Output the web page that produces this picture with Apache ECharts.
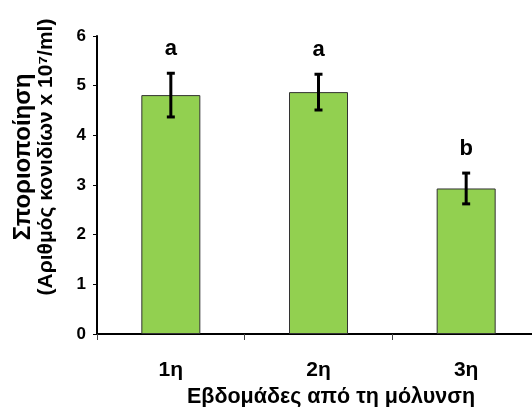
<!DOCTYPE html>
<html>
<head>
<meta charset="utf-8">
<script src="https://cdn.jsdelivr.net/npm/echarts@6/dist/echarts.min.js"></script>
<style>html,body{margin:0;padding:0;background:#fff}#c{width:532px;height:407px}</style>
</head>
<body>
<div id="c"></div>
<script>
const categories = ['1η', '2η', '3η'];
const values = [4.81, 4.87, 2.93];
const errors = [0.44, 0.36, 0.31];
const sigLetters = ['a', 'a', 'b'];
const yTicks = [0, 1, 2, 3, 4, 5, 6];
const xTitle = 'Εβδομάδες από τη μόλυνση';
const yTitleLines = ['Σποριοποίηση', '(Αριθμός κονιδίων x 10⁷/ml)'];
const yTitleSizes = [24, 21];

const chart = echarts.init(document.getElementById('c'));
const font = '"Liberation Sans", Arial, sans-serif';

chart.setOption({
  animation: false,
  grid: { left: 97, top: 36, bottom: 73, width: 443, outerBoundsMode: 'none', containLabel: false },
  graphic: yTitleLines.map((t, k) => ({
    type: 'text',
    x: 23 + k * 23,
    y: 157,
    rotation: Math.PI / 2,
    style: { text: t, fontFamily: font, fontWeight: 'bold', fontSize: yTitleSizes[k], fill: '#000', align: 'center', verticalAlign: 'middle' }
  })),
  xAxis: {
    type: 'category',
    data: categories,
    name: xTitle,
    nameLocation: 'middle',
    nameGap: 48,
    nameTextStyle: { fontFamily: font, fontWeight: 'bold', fontSize: 21.5, color: '#000', padding: [0, 0, 0, 25] },
    axisLine: { lineStyle: { color: '#000', width: 2 } },
    axisTick: { show: true, length: 6, lineStyle: { color: '#444', width: 1 } },
    axisLabel: { margin: 26, fontFamily: font, fontWeight: 'bold', fontSize: 21, color: '#000' }
  },
  yAxis: {
    type: 'value',
    min: yTicks[0],
    max: yTicks[yTicks.length - 1],
    interval: 1,
    splitLine: { show: false },
    axisLine: { show: true, lineStyle: { color: '#000', width: 2 } },
    axisTick: { show: true, length: 4, lineStyle: { color: '#000', width: 1 } },
    axisLabel: { margin: 11, fontFamily: font, fontWeight: 'bold', fontSize: 17, color: '#000' }
  },
  series: [
    {
      type: 'bar',
      data: values,
      barWidth: 59,
      itemStyle: { color: '#92D050', borderColor: '#333', borderWidth: 1 }
    },
    {
      type: 'custom',
      data: values.map((v, i) => [i, v, errors[i]]),
      z: 10,
      renderItem: function (params, api) {
        const i = api.value(0), v = api.value(1), e = api.value(2);
        const top = api.coord([i, v + e]);
        const bot = api.coord([i, v - e]);
        const cw = 4;
        return {
          type: 'group',
          children: [
            { type: 'line', shape: { x1: top[0], y1: top[1], x2: bot[0], y2: bot[1] }, style: { stroke: '#000', lineWidth: 3 } },
            { type: 'line', shape: { x1: top[0] - cw, y1: top[1], x2: top[0] + cw, y2: top[1] }, style: { stroke: '#000', lineWidth: 3 } },
            { type: 'line', shape: { x1: bot[0] - cw, y1: bot[1], x2: bot[0] + cw, y2: bot[1] }, style: { stroke: '#000', lineWidth: 3 } },
            { type: 'text', x: top[0], y: top[1] - 13, style: { text: sigLetters[params.dataIndex], fontFamily: font, fontWeight: 'bold', fontSize: 22, fill: '#000', align: 'center', verticalAlign: 'bottom' } }
          ]
        };
      }
    }
  ]
});
</script>
</body>
</html>
